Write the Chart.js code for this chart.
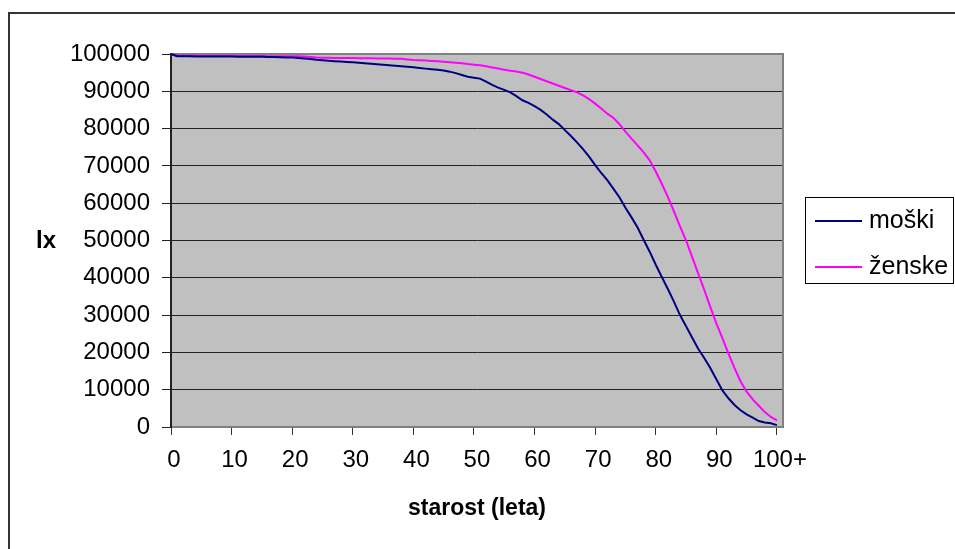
<!DOCTYPE html>
<html>
<head>
<meta charset="utf-8">
<script src="https://cdn.jsdelivr.net/npm/chart.js@4/dist/chart.umd.min.js"></script>
<style>
  html, body { margin: 0; padding: 0; background: #fff; }
  #okvir { width: 955px; height: 549px; }
</style>
</head>
<body>
<div id="okvir"><canvas id="graf" width="955" height="549"></canvas></div>
<script>
// starost 0..100 (zadnja skupina je 100+)
const starost = [
    0, 1, 2, 3, 4, 5, 6, 7, 8, 9,
    10, 11, 12, 13, 14, 15, 16, 17, 18, 19,
    20, 21, 22, 23, 24, 25, 26, 27, 28, 29,
    30, 31, 32, 33, 34, 35, 36, 37, 38, 39,
    40, 41, 42, 43, 44, 45, 46, 47, 48, 49,
    50, 51, 52, 53, 54, 55, 56, 57, 58, 59,
    60, 61, 62, 63, 64, 65, 66, 67, 68, 69,
    70, 71, 72, 73, 74, 75, 76, 77, 78, 79,
    80, 81, 82, 83, 84, 85, 86, 87, 88, 89,
    90, 91, 92, 93, 94, 95, 96, 97, 98, 99,
    100
];

// lx - število preživelih
const moski = [
    100000, 99420, 99390, 99370, 99360, 99350, 99340, 99330, 99320, 99310,
    99300, 99290, 99280, 99270, 99250, 99230, 99200, 99170, 99130, 99090,
    99040, 98950, 98800, 98650, 98450, 98300, 98180, 98080, 97980, 97880,
    97780, 97660, 97530, 97390, 97240, 97110, 96980, 96850, 96710, 96570,
    96420, 96250, 96080, 95910, 95750, 95580, 95270, 94870, 94380, 93900,
    93650, 93400, 92600, 91700, 91000, 90400, 89700, 88700, 87600, 86900,
    86000, 85000, 83800, 82400, 81200, 79600, 78000, 76300, 74500, 72500,
    70200, 68100, 66200, 63900, 61600, 58800, 56200, 53500, 50200, 47000,
    43500, 40200, 37000, 33600, 30000, 27000, 24000, 21000, 18500, 15800,
    12800, 9800, 7700, 5900, 4500, 3400, 2500, 1600, 1200, 1000,
    500
];

const zenske = [
    100000, 99520, 99510, 99500, 99500, 99490, 99490, 99480, 99480, 99470,
    99470, 99460, 99460, 99450, 99450, 99440, 99430, 99420, 99410, 99400,
    99390, 99370, 99350, 99200, 99050, 99000, 98980, 98960, 98940, 98920,
    98900, 98880, 98860, 98840, 98820, 98800, 98780, 98760, 98700, 98550,
    98400, 98320, 98240, 98150, 98050, 97900, 97780, 97650, 97500, 97300,
    97150, 96970, 96700, 96400, 96100, 95800, 95500, 95300, 95000, 94500,
    93900, 93300, 92700, 92100, 91500, 90900, 90300, 89700, 88900, 87900,
    86700, 85400, 84000, 82900, 81200, 79200, 77300, 75500, 73600, 71500,
    68500, 65200, 61700, 57800, 53800, 50000, 45600, 41200, 36800, 32200,
    27800, 23800, 19700, 15800, 12200, 9500, 7400, 5700, 4000, 2700,
    1800
];

const oznakeX = ['0', '10', '20', '30', '40', '50', '60', '70', '80', '90', '100+'];

const pisava = 'Liberation Sans, Arial, sans-serif';

// sivo ozadje risalne ploskve, okvir, oznaka "lx" in legenda
const okrasje = {
    id: 'okrasje',
    beforeDraw(chart) {
        const {ctx, chartArea: a} = chart;
        ctx.save();
        ctx.fillStyle = '#c0c0c0';
        ctx.fillRect(a.left, a.top, a.right - a.left, a.bottom - a.top);
        // zunanji okvir grafa
        ctx.strokeStyle = '#333';
        ctx.lineWidth = 2;
        ctx.beginPath();
        ctx.moveTo(9, 560);
        ctx.lineTo(9, 13);
        ctx.lineTo(960, 13);
        ctx.stroke();
        ctx.restore();
    },
    beforeDatasetsDraw(chart) {
        const {ctx, chartArea: a} = chart;
        ctx.save();
        ctx.strokeStyle = '#808080';
        ctx.lineWidth = 2;
        ctx.beginPath();
        ctx.moveTo(a.left, a.top);
        ctx.lineTo(a.right, a.top);
        ctx.lineTo(a.right, a.bottom);
        ctx.stroke();
        ctx.restore();
    },
    afterDraw(chart) {
        const {ctx} = chart;
        ctx.save();
        ctx.fillStyle = '#000';
        ctx.font = 'bold 24px ' + pisava;
        ctx.textAlign = 'center';
        ctx.textBaseline = 'middle';
        ctx.fillText('lx', 46, 241);

        // legenda
        ctx.strokeStyle = '#000';
        ctx.lineWidth = 1;
        ctx.strokeRect(805.5, 197.5, 148, 86);
        ctx.font = '25px ' + pisava;
        ctx.textAlign = 'left';
        const vrstice = [221, 267];
        chart.data.datasets.forEach((ds, i) => {
            ctx.strokeStyle = ds.borderColor;
            ctx.lineWidth = 2;
            ctx.beginPath();
            ctx.moveTo(815, vrstice[i]);
            ctx.lineTo(862, vrstice[i]);
            ctx.stroke();
            ctx.fillStyle = '#000';
            ctx.fillText(ds.label, 869, vrstice[i]);
        });
        ctx.restore();
    }
};

const data = {
    datasets: [{
        label: 'moški',
        data: starost.map((s, i) => ({x: s, y: moski[i]})),
        borderColor: '#000080',
        borderWidth: 2,
        pointRadius: 0,
        tension: 0,
        clip: false
    }, {
        label: 'ženske',
        data: starost.map((s, i) => ({x: s, y: zenske[i]})),
        borderColor: '#ff00ff',
        borderWidth: 2,
        pointRadius: 0,
        tension: 0,
        clip: false
    }]
};

const config = {
    type: 'line',
    data: data,
    plugins: [okrasje],
    options: {
        responsive: false,
        animation: false,
        events: [],
        layout: {
            padding: {top: 54, right: 172, bottom: 0, left: 0}
        },
        plugins: {
            legend: {display: false},
            tooltip: {enabled: false}
        },
        scales: {
            x: {
                type: 'linear',
                min: 0,
                max: 101,
                afterFit: function(scale) { scale.height = 122; },
                grid: {
                    drawOnChartArea: false,
                    drawTicks: true,
                    tickLength: 8,
                    color: '#333'
                },
                border: {color: '#808080', width: 2},
                ticks: {
                    stepSize: 10,
                    includeBounds: false,
                    maxRotation: 0,
                    autoSkip: false,
                    padding: 11,
                    labelOffset: 3,
                    color: '#000',
                    font: {family: pisava, size: 24},
                    callback: function(v) { return oznakeX[v / 10]; }
                },
                title: {
                    display: true,
                    text: 'starost (leta)',
                    color: '#000',
                    font: {family: pisava, size: 23, weight: 'bold'},
                    padding: {top: 0, bottom: 27}
                }
            },
            y: {
                min: 0,
                max: 100000,
                afterFit: function(scale) { scale.width = 171; },
                grid: {
                    color: '#222',
                    lineWidth: 1,
                    tickLength: 9
                },
                border: {color: '#222', width: 2},
                ticks: {
                    stepSize: 10000,
                    padding: 12,
                    color: '#000',
                    font: {family: pisava, size: 24},
                    callback: function(v) { return String(v); }
                }
            }
        }
    }
};

const ctx = document.getElementById('graf');
const grafLx = new Chart(ctx, config);
</script>
</body>
</html>
